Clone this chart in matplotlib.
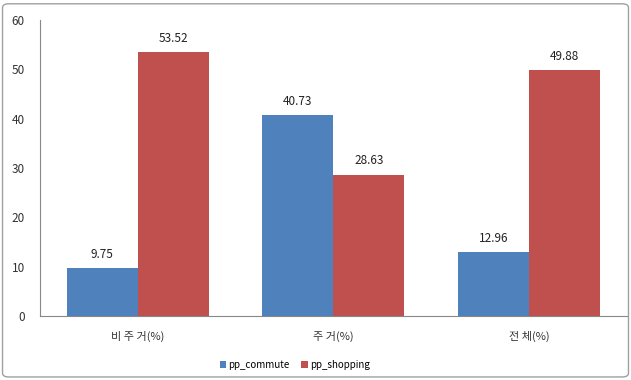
import matplotlib
matplotlib.use("Agg")
import matplotlib.pyplot as plt
import numpy as np
from matplotlib.patches import FancyBboxPatch

plt.rcParams['font.family'] = ['Noto Sans CJK KR', 'DejaVu Sans']

categories = ['비 주 거(%)', '주 거(%)', '전 체(%)']
pp_commute = [9.75, 40.73, 12.96]
pp_shopping = [53.52, 28.63, 49.88]

fig = plt.figure(figsize=(6.31, 3.80), dpi=100)
fig.patches.append(FancyBboxPatch((0.004, 0.008), 0.992, 0.982,
                                  boxstyle="round,pad=0,rounding_size=0.01",
                                  transform=fig.transFigure, fill=False,
                                  edgecolor='#A0A0A0', linewidth=1))
ax = fig.add_axes([0.0634, 0.1684, 0.930, 0.7786])

x = np.arange(len(categories))
w = 0.363
b1 = ax.bar(x - w / 2, pp_commute, w, color='#4F81BD', label='pp_commute')
b2 = ax.bar(x + w / 2, pp_shopping, w, color='#C0504D', label='pp_shopping')

for bars, vals in [(b1, pp_commute), (b2, pp_shopping)]:
    for rect, v in zip(bars, vals):
        ax.text(rect.get_x() + rect.get_width() / 2, v + 1.5, f'{v:.2f}',
                ha='center', va='bottom', fontsize=8.5, color='#222222')

ax.set_xlim(-0.5, 2.5)
ax.set_ylim(0, 60)
ax.set_yticks(range(0, 61, 10))
ax.set_xticks(x)
ax.set_xticklabels(categories, fontsize=8, color='#333333')
ax.tick_params(axis='y', labelsize=8.5, colors='#333333', length=0, pad=11)
ax.tick_params(axis='x', length=0, pad=11)
for s in ['top', 'right']:
    ax.spines[s].set_visible(False)
ax.spines['left'].set_color('#888888')
ax.spines['bottom'].set_color('#888888')

fig.legend(handles=[b1, b2], loc='center', bbox_to_anchor=(0.467, 0.04), ncol=2,
           frameon=False, fontsize=7, handlelength=0.7, handleheight=0.7,
           handletextpad=0.2, columnspacing=1.2)

fig.savefig('out.png', dpi=100)
